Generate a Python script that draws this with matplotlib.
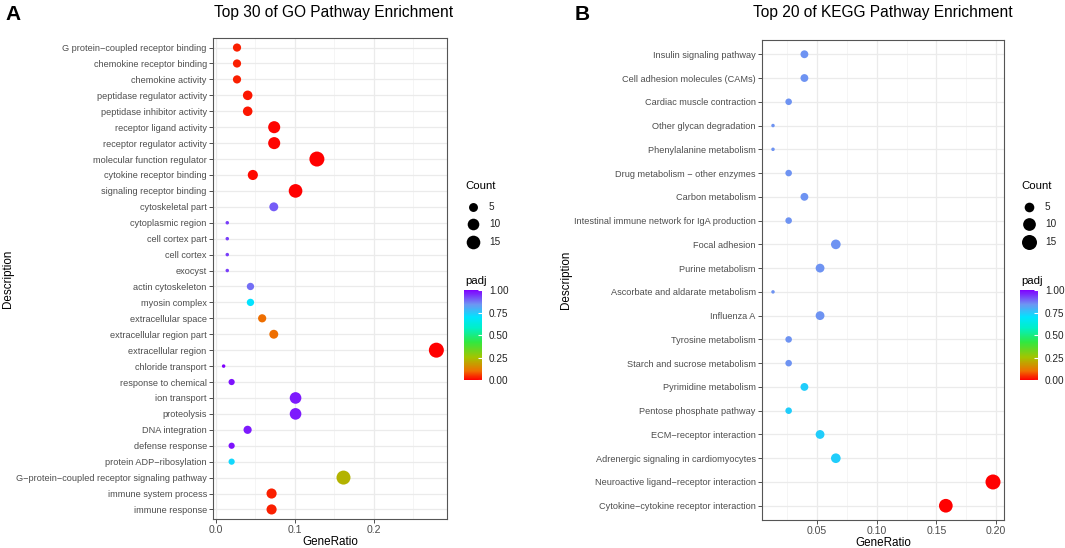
import numpy as np
import matplotlib
matplotlib.use("Agg")
import matplotlib.pyplot as plt
from matplotlib.colors import LinearSegmentedColormap, Normalize

plt.rcParams['font.family'] = ['Liberation Sans', 'DejaVu Sans']

# ---- GO data (top to bottom) ----
go_terms = ["G protein\u2212coupled receptor binding", "chemokine receptor binding",
            "chemokine activity", "peptidase regulator activity",
            "peptidase inhibitor activity", "receptor ligand activity",
            "receptor regulator activity", "molecular function regulator",
            "cytokine receptor binding", "signaling receptor binding",
            "cytoskeletal part", "cytoplasmic region", "cell cortex part",
            "cell cortex", "exocyst", "actin cytoskeleton", "myosin complex",
            "extracellular space", "extracellular region part",
            "extracellular region", "chloride transport", "response to chemical",
            "ion transport", "proteolysis", "DNA integration", "defense response",
            "protein ADP\u2212ribosylation",
            "G\u2212protein\u2212coupled receptor signaling pathway",
            "immune system process", "immune response"]
go_ratio = [0.027, 0.027, 0.027, 0.0405, 0.0405, 0.074, 0.074, 0.128, 0.047, 0.101,
            0.0735, 0.0147, 0.0147, 0.0147, 0.0147, 0.044, 0.044, 0.0588, 0.0735, 0.279,
            0.0101, 0.0202, 0.101, 0.101, 0.0404, 0.0202, 0.0202, 0.1616, 0.0707, 0.0707]
go_count = [4, 4, 4, 6, 6, 11, 11, 19, 7, 15,
            5, 1, 1, 1, 1, 3, 3, 4, 5, 19,
            1, 2, 10, 10, 4, 2, 2, 16, 7, 7]
go_padj = [0.03, 0.03, 0.03, 0.02, 0.02, 0.005, 0.005, 0.0, 0.01, 0.0,
           0.9, 0.93, 0.93, 0.93, 0.93, 0.88, 0.7, 0.1, 0.1, 0.0,
           1.0, 0.98, 0.97, 0.97, 0.97, 0.98, 0.72, 0.22, 0.03, 0.03]

# ---- KEGG data (top to bottom) ----
kegg_terms = ["Insulin signaling pathway", "Cell adhesion molecules (CAMs)",
              "Cardiac muscle contraction", "Other glycan degradation",
              "Phenylalanine metabolism", "Drug metabolism \u2212 other enzymes",
              "Carbon metabolism", "Intestinal immune network for IgA production",
              "Focal adhesion", "Purine metabolism", "Ascorbate and aldarate metabolism",
              "Influenza A", "Tyrosine metabolism", "Starch and sucrose metabolism",
              "Pyrimidine metabolism", "Pentose phosphate pathway",
              "ECM\u2212receptor interaction", "Adrenergic signaling in cardiomyocytes",
              "Neuroactive ligand\u2212receptor interaction",
              "Cytokine\u2212cytokine receptor interaction"]
kegg_ratio = [0.0395, 0.0395, 0.0263, 0.0132, 0.0132, 0.0263, 0.0395, 0.0263, 0.0658, 0.0526,
              0.0132, 0.0526, 0.0263, 0.0263, 0.0395, 0.0263, 0.0526, 0.0658, 0.1974, 0.1579]
kegg_count = [3, 3, 2, 1, 1, 2, 3, 2, 5, 4, 1, 4, 2, 2, 3, 2, 4, 5, 15, 12]
kegg_padj = [0.84, 0.84, 0.84, 0.84, 0.84, 0.84, 0.84, 0.84, 0.84, 0.84,
             0.84, 0.84, 0.84, 0.84, 0.74, 0.74, 0.74, 0.74, 0.0, 0.0]

size_breaks = [5, 10, 15]
padj_ticks = [0.0, 0.25, 0.5, 0.75, 1.0]

cmap = LinearSegmentedColormap.from_list("padj", [
    (0.00, "#FF0000"), (0.10, "#EE7000"), (0.25, "#A4C400"), (0.42, "#30E840"),
    (0.58, "#00F0C8"), (0.70, "#00E4FF"), (0.84, "#6E96F2"), (1.00, "#8000FF")])
norm = Normalize(0, 1)

W, H = 1065, 548
fig = plt.figure(figsize=(W / 100, H / 100), dpi=100)


def px_axes(l, t, r, b):
    return fig.add_axes([l / W, 1 - b / H, (r - l) / W, (b - t) / H])


def px_text(x, y, s, **kw):
    return fig.text(x / W, 1 - y / H, s, **kw)


def dot_diam(c, cmin, cmax):
    # diameter in pixels, area scaled like ggplot's scale_size
    return 3.5 + 11.5 * np.sqrt((np.asarray(c, float) - cmin) / (cmax - cmin))


def panel(box, terms, ratio, count, padj, title, letter, xticks, xtl,
          leg_x, title_x, letter_x, ylab_x):
    ax = px_axes(*box)
    n = len(terms)
    y = np.arange(n)[::-1]
    cmin, cmax = min(count), max(count)
    ax.scatter(ratio, y, s=(dot_diam(count, cmin, cmax) * 0.72) ** 2, c=padj,
               cmap=cmap, norm=norm, linewidths=0, zorder=3)
    ax.set_yticks(y)
    ax.set_yticklabels(terms)
    ax.set_xticks(xticks)
    ax.set_xticklabels(xtl)
    step = xticks[1] - xticks[0]
    minors = [xticks[0] - step / 2] + [t + step / 2 for t in xticks]
    ax.set_xticks(minors, minor=True)
    span = max(ratio) - min(ratio)
    ax.set_xlim(min(ratio) - 0.05 * span, max(ratio) + 0.05 * span)
    ax.set_ylim(-0.6, n - 0.4)
    ax.grid(True, which='major', color='#EBEBEB', linewidth=0.9, zorder=0)
    ax.grid(True, which='minor', axis='x', color='#F2F2F2', linewidth=0.5, zorder=0)
    ax.tick_params(which='minor', length=0)
    ax.tick_params(which='major', length=3, width=0.6, color='#333333',
                   labelsize=6.6, labelcolor='#4D4D4D', pad=1.5)
    ax.tick_params(axis='x', which='major', labelsize=7.6)
    ax.set_axisbelow(True)
    for s in ax.spines.values():
        s.set_color('#555555')
        s.set_linewidth(0.8)
    ax.set_xlabel("GeneRatio", fontsize=8.4, labelpad=0.5)
    px_text(ylab_x, (box[1] + box[3]) / 2, "Description", fontsize=8.4,
            rotation=90, ha='center', va='center')
    px_text(title_x, 12, title, fontsize=11.2, ha='center', va='center')
    px_text(letter_x, 14, letter, fontsize=15, fontweight='bold', ha='left', va='center')

    # size legend
    px_text(leg_x, 186, "Count", fontsize=8.2, ha='left', va='center')
    for yy, b in zip([207, 224, 242], size_breaks):
        fig.add_artist(plt.Line2D([(leg_x + 8) / W], [1 - yy / H], marker='o', linestyle='',
                                  color='black', markeredgewidth=0,
                                  markersize=0.72 * dot_diam(b, cmin, cmax),
                                  transform=fig.transFigure))
        px_text(leg_x + 24, yy, str(b), fontsize=7.2, color='#222222',
                ha='left', va='center')

    # colour bar
    px_text(leg_x, 281, "padj", fontsize=8.2, ha='left', va='center')
    cax = px_axes(leg_x - 1, 290, leg_x + 17, 380)
    cb = fig.colorbar(plt.cm.ScalarMappable(norm=norm, cmap=cmap), cax=cax)
    cb.outline.set_visible(False)
    cb.set_ticks(padj_ticks)
    cb.set_ticklabels(["0.00", "0.25", "0.50", "0.75", "1.00"])
    cax.tick_params(length=3, width=0.8, color='white', direction='in',
                    labelsize=7.2, labelcolor='#222222', pad=5)
    return ax


panel((213, 38, 447, 519), go_terms, go_ratio, go_count, go_padj,
      "Top 30 of GO Pathway Enrichment", "A",
      [0.0, 0.1, 0.2], ["0.0", "0.1", "0.2"], 465, 334, 5, 8)
panel((762, 40, 1004, 520), kegg_terms, kegg_ratio, kegg_count, kegg_padj,
      "Top 20 of KEGG Pathway Enrichment", "B",
      [0.05, 0.10, 0.15, 0.20], ["0.05", "0.10", "0.15", "0.20"], 1021, 883, 575, 566)

fig.savefig("out.png", dpi=100, facecolor='white')
